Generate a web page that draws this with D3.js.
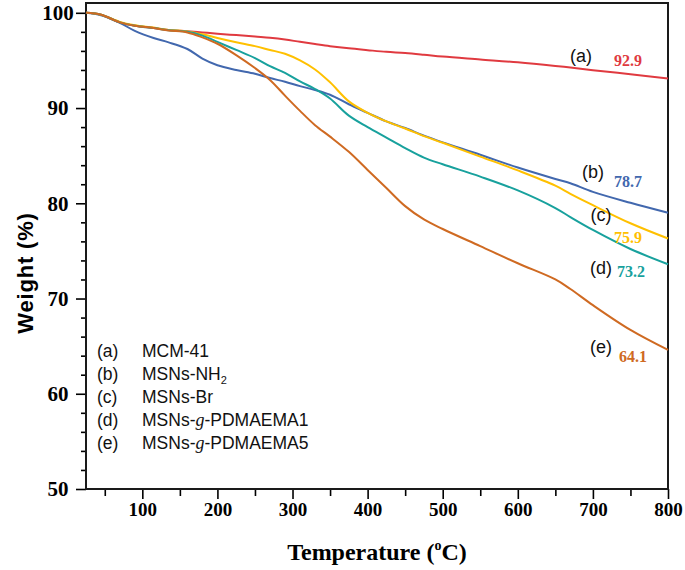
<!DOCTYPE html>
<html><head><meta charset="utf-8">
<script src="https://cdn.jsdelivr.net/npm/d3@7/dist/d3.min.js"></script>
<style>body{margin:0;background:#fff;}svg{display:block;}</style>
</head><body>
<script>
// ---- data ----
const temps = [25,45,70,90,115,135,160,180,200,225,250,270,290,310,330,350,375,400,425,450,475,500,550,600,650,670,700,750,800];
const seriesA = [100,99.8,99.0,98.65,98.4,98.2,98.07,97.94,97.8,97.66,97.5,97.38,97.2,96.95,96.72,96.5,96.27,96.08,95.9,95.78,95.6,95.4,95.1,94.8,94.42,94.25,93.97,93.55,93.1];
const seriesB = [100,99.75,98.95,98.1,97.35,96.9,96.2,95.2,94.5,94.0,93.6,93.15,92.76,92.3,91.9,91.4,90.4,89.5,88.6,87.9,87.1,86.4,85.1,83.75,82.55,82.1,81.2,80.05,79.0];
const seriesC = [100,99.8,99.05,98.7,98.45,98.2,98.05,97.75,97.35,96.9,96.5,96.1,95.7,95.0,94.05,92.7,90.7,89.5,88.6,87.85,87.05,86.35,84.9,83.45,81.85,81.0,79.8,77.9,76.3];
const seriesD = [100,99.8,99.0,98.65,98.4,98.18,98.0,97.6,96.95,96.1,95.25,94.4,93.7,92.8,92.0,91.0,89.2,88.0,86.9,85.8,84.8,84.1,82.8,81.35,79.5,78.55,77.2,75.2,73.6];
const seriesE = [100,99.8,99.0,98.65,98.4,98.15,97.94,97.42,96.75,95.56,94.2,92.95,91.3,89.7,88.2,87.0,85.4,83.5,81.6,79.7,78.3,77.3,75.5,73.7,72.0,71.0,69.3,66.7,64.6];
const seriesColors = ["#e03a40","#4268ae","#ffc000","#18a19d","#cf6a22"];
const letters = ["(a)","(b)","(c)","(d)","(e)"];
const endValues = ["92.9","78.7","75.9","73.2","64.1"];
const xTicks = [100,200,300,400,500,600,700,800];
const yTicks = [50,60,70,80,90,100];

const W = 685, H = 570;
const svg = d3.select("body").append("svg").attr("width", W).attr("height", H);
const pL = 86, pR = 668, pT = 3, pB = 489;
const x = d3.scaleLinear().domain([25, 800]).range([pL, pR]);
const y = d3.scaleLinear().domain([50, 101.03]).range([pB, pT]);

const serif = "'Liberation Serif','Times New Roman',serif";
const sans = "'Liberation Sans',Arial,sans-serif";

// minor ticks
const xMinor = d3.range(50, 800, 100);
const yMinor = d3.range(52, 100, 2).filter(v => v % 10 !== 0);

const gx = svg.append("g").attr("transform", `translate(0,${pB})`);
gx.call(d3.axisBottom(x).tickValues(xMinor).tickSize(7).tickFormat(""));
gx.select(".domain").remove();
const gx2 = svg.append("g").attr("transform", `translate(0,${pB})`);
gx2.call(d3.axisBottom(x).tickValues(xTicks).tickSize(10).tickPadding(4).tickFormat(d3.format("d")));
gx2.select(".domain").remove();
gx2.selectAll("text").attr("font-family", serif).attr("font-weight", "bold").attr("font-size", 19).attr("fill", "#000");

const gy = svg.append("g").attr("transform", `translate(${pL},0)`);
gy.call(d3.axisLeft(y).tickValues(yMinor).tickSize(5).tickFormat(""));
gy.select(".domain").remove();
const gy2 = svg.append("g").attr("transform", `translate(${pL},0)`);
gy2.call(d3.axisLeft(y).tickValues(yTicks).tickSize(10).tickFormat(d3.format("d")));
gy2.select(".domain").remove();
gy2.selectAll("text").attr("font-family", serif).attr("font-weight", "bold").attr("font-size", 21)
  .attr("fill", "#000").attr("text-anchor", "middle").attr("x", -28);
svg.selectAll(".tick line").attr("stroke", "#000").attr("stroke-width", 1.6);

// frame
svg.append("rect").attr("x", pL).attr("y", pT).attr("width", pR-pL).attr("height", pB-pT)
  .attr("fill", "none").attr("stroke", "#1a1a1a").attr("stroke-width", 2);

// curves
const all = [seriesA, seriesB, seriesC, seriesD, seriesE];
const line = d3.line().x((d,i) => x(temps[i])).y(d => y(d)).curve(d3.curveCatmullRom.alpha(0.5));
all.forEach((s,k) => {
  svg.append("path").datum(s).attr("d", line).attr("fill", "none")
    .attr("stroke", seriesColors[k]).attr("stroke-width", 2);
});

// right-side annotations
const letterPos = [[581,62],[593,178],[601,221],[601,274],[601,353]];
const valPos = [[614,66],[614,187],[614,243],[617,277],[619,362]];
letters.forEach((t,i) => {
  svg.append("text").attr("x", letterPos[i][0]).attr("y", letterPos[i][1]).attr("text-anchor","middle")
    .attr("font-family", sans).attr("font-size", 18).attr("fill", "#111").text(t);
  svg.append("text").attr("x", valPos[i][0]).attr("y", valPos[i][1])
    .attr("font-family", serif).attr("font-weight","bold").attr("font-size", 16)
    .attr("fill", seriesColors[i]).text(endValues[i]);
});

// legend
const legend = svg.append("g").attr("font-family", sans).attr("font-size", 17.5).attr("fill", "#111");
const legBase = 357, legStep = 23;
letters.forEach((t,i) => {
  legend.append("text").attr("x", 97).attr("y", legBase + i*legStep).text(t);
});
const names = [
  [["MCM-41",""]],
  [["MSNs-NH",""],["2","sub"]],
  [["MSNs-Br",""]],
  [["MSNs-",""],["g","it"],["-PDMAEMA1",""]],
  [["MSNs-",""],["g","it"],["-PDMAEMA5",""]]
];
names.forEach((parts,i) => {
  const t = legend.append("text").attr("x", 142).attr("y", legBase + i*legStep);
  parts.forEach(p => {
    const s = t.append("tspan").text(p[0]);
    if (p[1] === "sub") s.attr("font-size", 11).attr("dy", 4);
    if (p[1] === "it") s.attr("font-style", "italic").attr("font-family", serif).attr("font-size", 18);
  });
});

// axis titles
const xt = svg.append("text").attr("x", (pL+pR)/2).attr("y", 560).attr("text-anchor","middle")
  .attr("font-family", serif).attr("font-weight","bold").attr("font-size", 24).attr("fill","#000");
xt.append("tspan").text("Temperature (");
xt.append("tspan").text("o").attr("font-size", 14).attr("dy", -10);
xt.append("tspan").text("C)").attr("dy", 10);

svg.append("text").attr("transform", "translate(33,273) rotate(-90)").attr("text-anchor","middle")
  .attr("font-family", sans).attr("font-weight","bold").attr("font-size", 22)
  .attr("letter-spacing", 0.8).attr("fill","#000").text("Weight (%)");
</script>
</body></html>
